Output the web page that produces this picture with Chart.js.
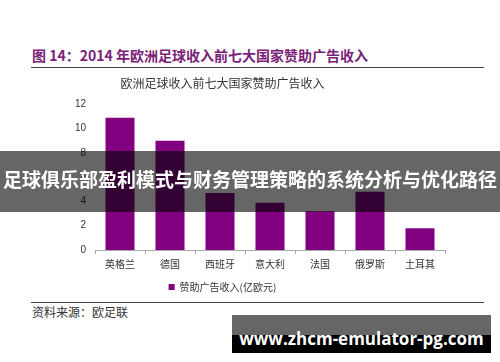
<!DOCTYPE html>
<html>
<head>
<meta charset="utf-8">
<script src="https://cdn.jsdelivr.net/npm/chart.js@4/dist/chart.umd.min.js"></script>
<style>
  html, body { margin: 0; padding: 0; background: #fff; }
  body { width: 500px; height: 362px; position: relative; overflow: hidden; font-family: "Noto Sans CJK SC", sans-serif; }
  .fig-title { position: absolute; left: 32px; top: 45px; font-size: 14px; font-weight: bold; color: #7a1e78; white-space: nowrap; line-height: 20px; }
  .rule { position: absolute; left: 31px; width: 453px; height: 0; border-top: 1px solid #444; }
  #chartBox { position: absolute; left: 0; top: 72px; width: 500px; height: 230px; }
  .source { position: absolute; left: 32px; top: 303px; font-size: 12px; color: #333; line-height: 18px; }
  .banner { position: absolute; left: 0; top: 151px; width: 500px; height: 61px; background: rgba(0,0,0,0.6); color: #fff; font-weight: bold; font-size: 19px; text-align: center; line-height: 56px; white-space: nowrap; }
  .mark { position: absolute; left: 232px; top: 315px; width: 259px; height: 38px; background: linear-gradient(#666 0, #666 20px, #000 20px); color: #fff; font-family: "Open Sans", sans-serif; font-weight: bold; font-size: 17px; text-align: center; line-height: 48px; white-space: nowrap; }
</style>
</head>
<body>
<div class="fig-title">图 14：2014 年欧洲足球收入前七大国家赞助广告收入</div>
<div class="rule" style="top:67px"></div>
<div id="chartBox"><canvas id="chart"></canvas></div>
<div class="rule" style="top:302px"></div>
<div class="source">资料来源：欧足联</div>
<div class="banner">足球俱乐部盈利模式与财务管理策略的系统分析与优化路径</div>
<div class="mark">www.zhcm-emulator-pg.com</div>

<script>
// ─── DATA ────────────────────────────────────────────────
const countries = ['英格兰', '德国', '西班牙', '意大利', '法国', '俄罗斯', '土耳其'];
const sponsorRevenue = [10.9, 9.0, 4.7, 3.9, 3.2, 4.8, 1.8];
const seriesLabel = '赞助广告收入(亿欧元)';
const chartTitle = '欧洲足球收入前七大国家赞助广告收入';
const yMax = 12;
const yStep = 2;

const purple = '#800080';
const cjk = '"Noto Sans CJK SC", sans-serif';

new Chart(document.getElementById('chart'), {
  type: 'bar',
  data: {
    labels: countries,
    datasets: [{
      label: seriesLabel,
      data: sponsorRevenue,
      backgroundColor: purple,
      borderWidth: 0,
      barPercentage: 0.58,
      categoryPercentage: 1
    }]
  },
  options: {
    responsive: true,
    maintainAspectRatio: false,
    animation: false,
    layout: { padding: { left: 0, right: 55, top: 0, bottom: 0 } },
    plugins: {
      title: {
        display: true,
        text: chartTitle,
        color: '#333',
        font: { family: cjk, size: 12, weight: 'normal' },
        padding: { top: 4, bottom: 14 }
      },
      legend: {
        display: true,
        position: 'bottom',
        labels: { color: '#333', font: { family: cjk, size: 10 }, boxWidth: 6, boxHeight: 6, padding: 8 }
      },
      tooltip: { enabled: false }
    },
    scales: {
      x: {
        grid: { display: true, drawOnChartArea: false, offset: true, color: '#aaa', tickLength: 4 },
        border: { display: true, color: '#aaa' },
        ticks: { color: '#333', font: { family: cjk, size: 10 }, padding: 4 }
      },
      y: {
        min: 0,
        max: yMax,
        afterFit: s => { s.width = 95; },
        grid: { display: false, drawTicks: false },
        border: { display: false },
        ticks: { stepSize: yStep, color: '#333', font: { family: '"Liberation Sans", Arial, sans-serif', size: 10 }, padding: 9 }
      }
    }
  }
});
</script>
</body>
</html>
